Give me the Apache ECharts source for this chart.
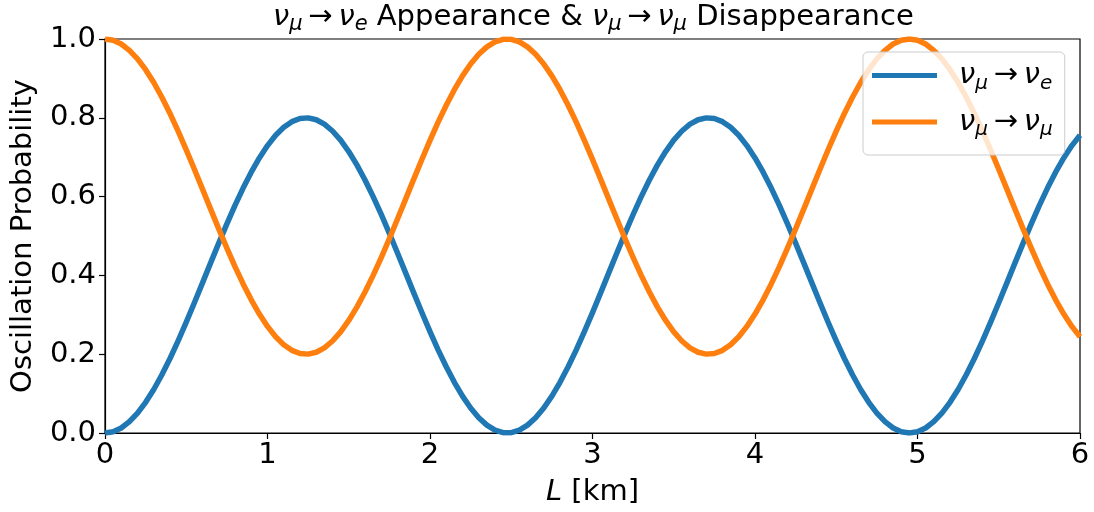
<!DOCTYPE html>
<html>
<head>
<meta charset="utf-8">
<script src="https://cdn.jsdelivr.net/npm/echarts@6/dist/echarts.min.js"></script>
<style>
  html, body { margin: 0; padding: 0; background: #fff; }
  #chart { width: 1094px; height: 512px; }
</style>
</head>
<body>
<div id="chart"></div>
<script>
// Baseline L in km
const baselineKm = [
  0.00, 0.05, 0.10, 0.15, 0.20, 0.25, 0.30, 0.35, 0.40, 0.45,
  0.50, 0.55, 0.60, 0.65, 0.70, 0.75, 0.80, 0.85, 0.90, 0.95,
  1.00, 1.05, 1.10, 1.15, 1.20, 1.25, 1.30, 1.35, 1.40, 1.45,
  1.50, 1.55, 1.60, 1.65, 1.70, 1.75, 1.80, 1.85, 1.90, 1.95,
  2.00, 2.05, 2.10, 2.15, 2.20, 2.25, 2.30, 2.35, 2.40, 2.45,
  2.50, 2.55, 2.60, 2.65, 2.70, 2.75, 2.80, 2.85, 2.90, 2.95,
  3.00, 3.05, 3.10, 3.15, 3.20, 3.25, 3.30, 3.35, 3.40, 3.45,
  3.50, 3.55, 3.60, 3.65, 3.70, 3.75, 3.80, 3.85, 3.90, 3.95,
  4.00, 4.05, 4.10, 4.15, 4.20, 4.25, 4.30, 4.35, 4.40, 4.45,
  4.50, 4.55, 4.60, 4.65, 4.70, 4.75, 4.80, 4.85, 4.90, 4.95,
  5.00, 5.05, 5.10, 5.15, 5.20, 5.25, 5.30, 5.35, 5.40, 5.45,
  5.50, 5.55, 5.60, 5.65, 5.70, 5.75, 5.80, 5.85, 5.90, 5.95,
  6.00
];

// P(nu_mu -> nu_e)
const probAppearance = [
  0.0000, 0.0032, 0.0128, 0.0287, 0.0505, 0.0779, 0.1105, 0.1478, 0.1891, 0.2338,
  0.2812, 0.3305, 0.3810, 0.4317, 0.4819, 0.5308, 0.5776, 0.6216, 0.6619, 0.6981,
  0.7295, 0.7558, 0.7759, 0.7902, 0.7982, 0.7998, 0.7950, 0.7838, 0.7665, 0.7432,
  0.7144, 0.6806, 0.6423, 0.6000, 0.5546, 0.5066, 0.4569, 0.4064, 0.3556, 0.3057,
  0.2572, 0.2111, 0.1680, 0.1286, 0.0936, 0.0635, 0.0388, 0.0200, 0.0072, 0.0008,
  0.0008, 0.0072, 0.0200, 0.0388, 0.0635, 0.0936, 0.1286, 0.1680, 0.2111, 0.2572,
  0.3057, 0.3556, 0.4064, 0.4569, 0.5066, 0.5546, 0.6000, 0.6423, 0.6806, 0.7144,
  0.7432, 0.7665, 0.7838, 0.7950, 0.7998, 0.7982, 0.7902, 0.7759, 0.7558, 0.7295,
  0.6981, 0.6619, 0.6216, 0.5776, 0.5308, 0.4819, 0.4317, 0.3810, 0.3305, 0.2812,
  0.2338, 0.1891, 0.1478, 0.1105, 0.0779, 0.0505, 0.0287, 0.0128, 0.0032, 0.0000,
  0.0032, 0.0128, 0.0287, 0.0505, 0.0779, 0.1105, 0.1478, 0.1891, 0.2338, 0.2812,
  0.3305, 0.3810, 0.4317, 0.4819, 0.5308, 0.5776, 0.6216, 0.6619, 0.6981, 0.7295,
  0.7558
];

// P(nu_mu -> nu_mu)
const probSurvival = [
  1.0000, 0.9968, 0.9872, 0.9713, 0.9495, 0.9221, 0.8895, 0.8522, 0.8109, 0.7662,
  0.7188, 0.6695, 0.6190, 0.5683, 0.5181, 0.4692, 0.4224, 0.3784, 0.3381, 0.3019,
  0.2705, 0.2442, 0.2241, 0.2098, 0.2018, 0.2002, 0.2050, 0.2162, 0.2335, 0.2568,
  0.2856, 0.3194, 0.3577, 0.4000, 0.4454, 0.4934, 0.5431, 0.5936, 0.6444, 0.6943,
  0.7428, 0.7889, 0.8320, 0.8714, 0.9064, 0.9365, 0.9612, 0.9800, 0.9928, 0.9992,
  0.9992, 0.9928, 0.9800, 0.9612, 0.9365, 0.9064, 0.8714, 0.8320, 0.7889, 0.7428,
  0.6943, 0.6444, 0.5936, 0.5431, 0.4934, 0.4454, 0.4000, 0.3577, 0.3194, 0.2856,
  0.2568, 0.2335, 0.2162, 0.2050, 0.2002, 0.2018, 0.2098, 0.2241, 0.2442, 0.2705,
  0.3019, 0.3381, 0.3784, 0.4224, 0.4692, 0.5181, 0.5683, 0.6190, 0.6695, 0.7188,
  0.7662, 0.8109, 0.8522, 0.8895, 0.9221, 0.9495, 0.9713, 0.9872, 0.9968, 1.0000,
  0.9968, 0.9872, 0.9713, 0.9495, 0.9221, 0.8895, 0.8522, 0.8109, 0.7662, 0.7188,
  0.6695, 0.6190, 0.5683, 0.5181, 0.4692, 0.4224, 0.3784, 0.3381, 0.3019, 0.2705,
  0.2442
];

const xTickLabels = ['0', '1', '2', '3', '4', '5', '6'];
const yTickLabels = ['0.0', '0.2', '0.4', '0.6', '0.8', '1.0'];

const seriesNames = ['numu-nue', 'numu-numu'];
const legendRich = {
  'numu-nue': '{vl|ν}{s|μ}{a|\u2009→\u2009}{v|ν}{s|e}',
  'numu-numu': '{vl|ν}{s|μ}{a|\u2009→\u2009}{v|ν}{s|μ}'
};

const FONT = 'DejaVu Sans';
const BLUE = '#1f77b4';
const ORANGE = '#ff7f0e';
const TICK_SIZE = 29;
const LABEL_SIZE = 29;
const TITLE_SIZE = 29;
const LINE_W = 5.5;

function pairs(xs, ys) {
  return xs.map((x, i) => [x, ys[i]]);
}

const chart = echarts.init(document.getElementById('chart'), null, { renderer: 'canvas' });

chart.setOption({
  animation: false,
  backgroundColor: '#fff',
  title: {
    left: 273,
    top: -1,
    padding: 0,
    text: '{v|ν}{s|μ}{t|\u2009→\u2009}{v|ν}{s|e}{t| Appearance & }{v|ν}{s|μ}{t|\u2009→\u2009}{v|ν}{s|μ}{t| Disappearance}',
    textStyle: {
      fontFamily: FONT,
      fontWeight: 'normal',
      color: '#000',
      rich: {
        v: { fontFamily: FONT, fontStyle: 'italic', fontSize: TITLE_SIZE, lineHeight: 36, color: '#000' },
        s: { fontFamily: FONT, fontStyle: 'italic', fontSize: 21, lineHeight: 21, verticalAlign: 'bottom', color: '#000' },
        t: { fontFamily: FONT, fontSize: TITLE_SIZE, lineHeight: 36, color: '#000' }
      }
    }
  },
  legend: {
    data: seriesNames,
    orient: 'vertical',
    left: 863,
    top: 52,
    padding: [9, 12, 15, 9],
    itemGap: 14,
    itemWidth: 65,
    itemHeight: 5,
    icon: 'rect',
    backgroundColor: 'rgba(255,255,255,0.8)',
    borderColor: '#cccccc',
    borderWidth: 1,
    borderRadius: 5,
    formatter: name => legendRich[name],
    textStyle: {
      fontFamily: FONT,
      color: '#000',
      rich: {
        vl: { fontFamily: FONT, fontStyle: 'italic', fontSize: 29, lineHeight: 36, padding: [0, 0, 0, 17], color: '#000' },
        v: { fontFamily: FONT, fontStyle: 'italic', fontSize: 29, lineHeight: 36, color: '#000' },
        s: { fontFamily: FONT, fontStyle: 'italic', fontSize: 20, lineHeight: 20, verticalAlign: 'bottom', color: '#000' },
        a: { fontFamily: FONT, fontSize: 29, lineHeight: 36, color: '#000' }
      }
    }
  },
  grid: {
    left: 105,
    right: 14,
    top: 39,
    bottom: 79,
    show: true,
    borderColor: '#000',
    borderWidth: 1.2,
    backgroundColor: 'transparent'
  },
  xAxis: {
    type: 'value',
    min: 0,
    max: 6,
    interval: 1,
    name: '{i|L} [km]',
    nameLocation: 'middle',
    nameGap: 45,
    nameTextStyle: {
      fontFamily: FONT,
      fontSize: LABEL_SIZE,
      color: '#000',
      rich: {
        i: { fontFamily: FONT, fontStyle: 'italic', fontSize: LABEL_SIZE, color: '#000' }
      }
    },
    splitLine: { show: false },
    axisLine: { show: true, lineStyle: { color: '#000', width: 1.2 } },
    axisTick: { show: true, inside: false, length: 6, lineStyle: { color: '#000', width: 1.2 } },
    axisLabel: {
      fontFamily: FONT,
      fontSize: TICK_SIZE,
      color: '#000',
      margin: 8,
      formatter: v => xTickLabels[Math.round(v)]
    }
  },
  yAxis: {
    type: 'value',
    min: 0,
    max: 1,
    interval: 0.2,
    name: 'Oscillation Probability',
    nameLocation: 'middle',
    nameGap: 67,
    nameTextStyle: { fontFamily: FONT, fontSize: LABEL_SIZE, color: '#000' },
    splitLine: { show: false },
    axisLine: { show: true, lineStyle: { color: '#000', width: 1.2 } },
    axisTick: { show: true, inside: false, length: 6, lineStyle: { color: '#000', width: 1.2 } },
    axisLabel: {
      fontFamily: FONT,
      fontSize: TICK_SIZE,
      color: '#000',
      margin: 9,
      formatter: v => yTickLabels[Math.round(v / 0.2)]
    }
  },
  series: [
    {
      name: seriesNames[0],
      type: 'line',
      data: pairs(baselineKm, probAppearance),
      smooth: false,
      showSymbol: false,
      symbol: 'none',
      clip: true,
      lineStyle: { color: BLUE, width: LINE_W, join: 'round', cap: 'butt' },
      itemStyle: { color: BLUE }
    },
    {
      name: seriesNames[1],
      type: 'line',
      data: pairs(baselineKm, probSurvival),
      smooth: false,
      showSymbol: false,
      symbol: 'none',
      clip: true,
      lineStyle: { color: ORANGE, width: LINE_W, join: 'round', cap: 'butt' },
      itemStyle: { color: ORANGE }
    }
  ]
});
</script>
</body>
</html>
